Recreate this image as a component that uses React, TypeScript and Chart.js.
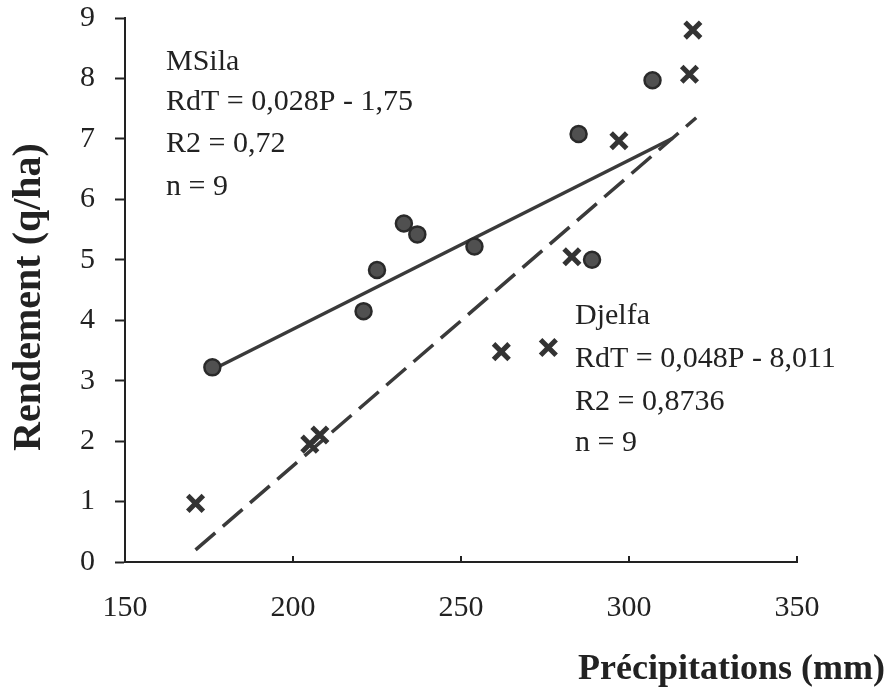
import React, { useEffect, useRef } from "react";
import { Chart, registerables } from "chart.js";

Chart.register(...registerables);

// MSila observations (circles)
const msilaP = [176, 221, 225, 233, 237, 254, 285, 289, 307];
const msilaY = [3.22, 4.15, 4.83, 5.6, 5.42, 5.22, 7.08, 5.0, 7.97];

// Djelfa observations (crosses)
const djelfaP = [171, 205, 208, 262, 276, 283, 297, 318, 319];
const djelfaY = [0.97, 1.95, 2.1, 3.48, 3.55, 5.05, 6.97, 8.07, 8.8];

// Trend line end points
const msilaFitP = [176, 313];
const msilaFitY = [3.18, 7.01];
const djelfaFitP = [171, 320];
const djelfaFitY = [0.2, 7.35];

const xTicks = [150, 200, 250, 300, 350];
const yTicks = [0, 1, 2, 3, 4, 5, 6, 7, 8, 9];

const msilaText = ["MSila", "RdT = 0,028P - 1,75", "R2 = 0,72", "n = 9"];
const djelfaText = ["Djelfa", "RdT = 0,048P - 8,011", "R2 = 0,8736", "n = 9"];
const xTitle = "Précipitations (mm)";
const yTitle = "Rendement (q/ha)";

const SERIF = '"Liberation Serif", "DejaVu Serif", serif';
const INK = "#222222";

const pts = (xs: number[], ys: number[]) => xs.map((x, i) => ({ x, y: ys[i] }));

const textPlugin = {
  id: "texts",
  afterDraw(chart: any) {
    const ctx = chart.ctx;
    const xs = chart.scales.x;
    const area = chart.chartArea;
    ctx.save();
    // inward x ticks
    ctx.strokeStyle = INK;
    ctx.lineWidth = 2;
    xTicks.slice(1).forEach((v) => {
      const px = xs.getPixelForValue(v);
      ctx.beginPath();
      ctx.moveTo(px, area.bottom);
      ctx.lineTo(px, area.bottom - 6);
      ctx.stroke();
    });
    ctx.fillStyle = INK;
    ctx.font = `30px ${SERIF}`;
    ctx.textAlign = "left";
    ctx.textBaseline = "alphabetic";
    const mY = [70, 110, 152, 195];
    msilaText.forEach((t, i) => ctx.fillText(t, 166, mY[i]));
    const dY = [324, 367, 410, 451];
    djelfaText.forEach((t, i) => ctx.fillText(t, 575, dY[i]));
    // axis titles
    ctx.font = `bold 36px ${SERIF}`;
    ctx.textAlign = "right";
    ctx.fillText(xTitle, 885, 679);
    ctx.translate(30, 297);
    ctx.rotate(-Math.PI / 2);
    ctx.font = `bold 40px ${SERIF}`;
    ctx.textAlign = "center";
    ctx.textBaseline = "middle";
    ctx.fillText(yTitle, 0, 0);
    ctx.restore();
  },
};

export default function App() {
  const ref = useRef<HTMLCanvasElement | null>(null);
  useEffect(() => {
    if (!ref.current) return;
    const chart = new Chart(ref.current, {
      type: "scatter",
      data: {
        datasets: [
          {
            label: "MSila",
            data: pts(msilaP, msilaY),
            pointStyle: "circle",
            pointRadius: 8,
            backgroundColor: "#505050",
            borderColor: "#2a2a2a",
            borderWidth: 2.5,
            order: 1,
          },
          {
            label: "Djelfa",
            data: pts(djelfaP, djelfaY),
            pointStyle: "crossRot",
            pointRadius: 11,
            borderColor: "#333333",
            backgroundColor: "#333333",
            borderWidth: 5,
            order: 2,
          },
          {
            label: "MSila fit",
            data: pts(msilaFitP, msilaFitY),
            showLine: true,
            pointRadius: 0,
            borderColor: "#3a3a3a",
            borderWidth: 3.5,
            order: 3,
          },
          {
            label: "Djelfa fit",
            data: pts(djelfaFitP, djelfaFitY),
            showLine: true,
            pointRadius: 0,
            borderColor: "#3a3a3a",
            borderWidth: 3.5,
            borderDash: [26, 10],
            order: 4,
          },
        ],
      },
      options: {
        responsive: false,
        animation: false,
        layout: { padding: { top: 18, right: 91, left: 0, bottom: 0 } },
        plugins: { legend: { display: false }, tooltip: { enabled: false } },
        scales: {
          x: {
            type: "linear",
            min: 150,
            max: 350,
            afterFit: (s: any) => {
              s.height = 128;
              s.paddingLeft = 0;
              s.paddingRight = 0;
            },
            afterBuildTicks: (s: any) => {
              s.ticks = xTicks.map((v) => ({ value: v }));
            },
            grid: { display: true, drawOnChartArea: false, drawTicks: false },
            border: { display: true, color: INK, width: 2 },
            ticks: {
              padding: 28,
              color: INK,
              font: { family: SERIF, size: 30 },
            },
          },
          y: {
            type: "linear",
            min: 0,
            max: 9,
            afterFit: (s: any) => {
              s.width = 125;
              s.paddingTop = 0;
              s.paddingBottom = 0;
            },
            afterBuildTicks: (s: any) => {
              s.ticks = yTicks.map((v) => ({ value: v }));
            },
            grid: {
              display: true,
              drawOnChartArea: false,
              drawTicks: true,
              tickLength: 10,
              tickColor: INK,
              tickWidth: 2,
            },
            border: { display: true, color: INK, width: 2 },
            ticks: {
              padding: 20,
              color: INK,
              font: { family: SERIF, size: 30 },
            },
          },
        },
      },
      plugins: [textPlugin],
    } as any);
    return () => chart.destroy();
  }, []);
  return (
    <div style={{ position: "fixed", left: 0, top: 0, width: 888, height: 690, background: "#fff" }}>
      <canvas ref={ref} width={888} height={690} />
    </div>
  );
}
